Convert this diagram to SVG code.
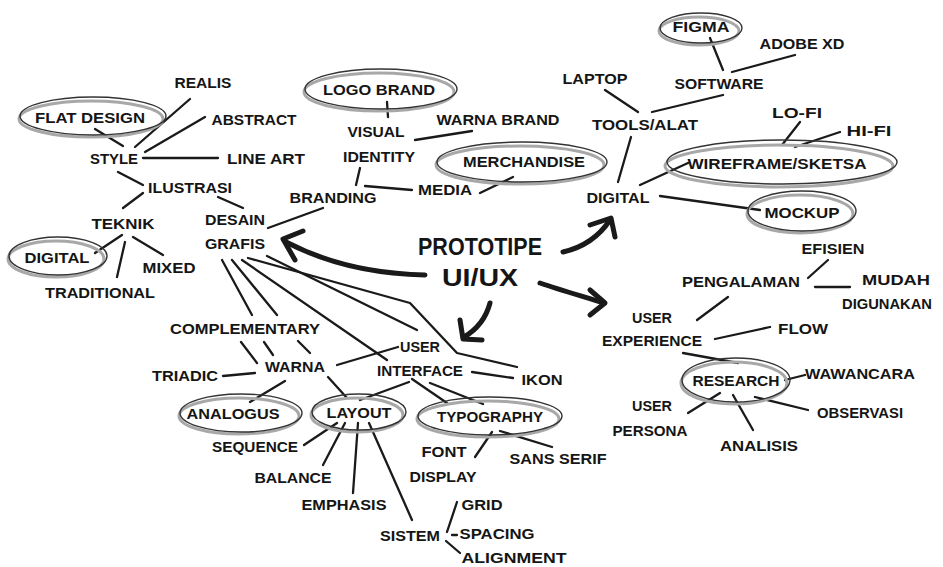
<svg xmlns="http://www.w3.org/2000/svg" width="943" height="567" viewBox="0 0 943 567">
<style>
text{font-family:"Liberation Sans",Arial,sans-serif;font-weight:bold;font-size:15px;fill:#151515;text-anchor:middle}
.big{font-size:24px}
.c line,.c polyline,.c path{stroke:#1a1a1a;stroke-width:2.3;stroke-linecap:round;stroke-linejoin:round;fill:none}
.c .arr{stroke-width:5}
.sh{fill:none;stroke:#a8a8a8;stroke-width:3}
.el{fill:none;stroke:#333;stroke-width:1.4}
</style>
<rect width="943" height="567" fill="#fff"/>
<g class="c" id="connectors">
<line x1="95" y1="129" x2="123" y2="146"/>
<line x1="190" y1="99" x2="135" y2="147"/>
<line x1="205" y1="117" x2="145" y2="152"/>
<line x1="143" y1="158" x2="218" y2="158"/>
<line x1="118" y1="172" x2="143" y2="185"/>
<line x1="143" y1="193" x2="123" y2="208"/>
<line x1="218" y1="197" x2="243" y2="208"/>
<line x1="122" y1="235" x2="95" y2="253"/>
<line x1="125" y1="242" x2="117" y2="277"/>
<line x1="133" y1="237" x2="163" y2="255"/>
<line x1="268" y1="228" x2="323" y2="208"/>
<line x1="387" y1="102" x2="388" y2="117"/>
<line x1="415" y1="140" x2="472" y2="131"/>
<line x1="360" y1="168" x2="356" y2="185"/>
<line x1="365" y1="186" x2="412" y2="190"/>
<line x1="480" y1="193" x2="513" y2="177"/>
<line x1="710" y1="38" x2="723" y2="70"/>
<line x1="732" y1="72" x2="795" y2="55"/>
<line x1="605" y1="90" x2="638" y2="112"/>
<line x1="723" y1="95" x2="652" y2="112"/>
<line x1="631" y1="137" x2="618" y2="182"/>
<line x1="800" y1="122" x2="782" y2="145"/>
<line x1="840" y1="132" x2="795" y2="147"/>
<line x1="640" y1="185" x2="688" y2="163"/>
<line x1="660" y1="196" x2="760" y2="210"/>
<line x1="828" y1="260" x2="808" y2="278"/>
<line x1="815" y1="287" x2="850" y2="287"/>
<line x1="728" y1="297" x2="697" y2="320"/>
<line x1="715" y1="339" x2="770" y2="327"/>
<line x1="683" y1="353" x2="738" y2="363"/>
<line x1="785" y1="380" x2="805" y2="375"/>
<line x1="755" y1="397" x2="808" y2="410"/>
<line x1="720" y1="393" x2="688" y2="413"/>
<line x1="733" y1="395" x2="753" y2="430"/>
<line x1="222" y1="260" x2="252" y2="315"/>
<line x1="232" y1="260" x2="277" y2="315"/>
<line x1="242" y1="260" x2="387" y2="360"/>
<polyline points="248,258 410,303 457,353 517,367"/>
<line x1="267" y1="256" x2="417" y2="330"/>
<line x1="241" y1="342" x2="257" y2="363"/>
<line x1="264" y1="342" x2="273" y2="355"/>
<line x1="298" y1="341" x2="310" y2="353"/>
<line x1="223" y1="376" x2="255" y2="373"/>
<line x1="337" y1="365" x2="398" y2="347"/>
<line x1="472" y1="372" x2="513" y2="378"/>
<line x1="285" y1="381" x2="250" y2="402"/>
<line x1="328" y1="377" x2="347" y2="398"/>
<line x1="409" y1="382" x2="360" y2="400"/>
<line x1="412" y1="379" x2="447" y2="403"/>
<line x1="430" y1="383" x2="483" y2="404"/>
<line x1="337" y1="423" x2="304" y2="445"/>
<line x1="345" y1="423" x2="323" y2="465"/>
<line x1="358" y1="423" x2="353" y2="493"/>
<line x1="369" y1="423" x2="412" y2="520"/>
<line x1="457" y1="502" x2="447" y2="532"/>
<line x1="452" y1="535" x2="457" y2="535"/>
<line x1="446" y1="541" x2="460" y2="553"/>
<line x1="492" y1="432" x2="475" y2="457"/>
<line x1="500" y1="431" x2="552" y2="447"/>
<path class="arr" d="M425,275 C380,274 330,265 286,242"/>
<polyline class="arr" points="303,231 283,239 295,260"/>
<path class="arr" d="M490,303 C486,318 476,330 464,337"/>
<polyline class="arr" points="460,320 463,339 482,340"/>
<path class="arr" d="M563,252 C585,247 600,235 610,220"/>
<polyline class="arr" points="590,225 611,218 615,237"/>
<path class="arr" d="M540,283 C560,290 585,297 604,303"/>
<polyline class="arr" points="590,290 605,303 590,315"/>
</g>
<g id="realis"><text x="203" y="88" textLength="57" lengthAdjust="spacingAndGlyphs">REALIS</text></g>
<g id="flat-design"><ellipse class="sh" cx="91" cy="119" rx="72" ry="18"/><ellipse class="el" cx="93" cy="116" rx="73" ry="19"/><text x="90" y="123" textLength="110" lengthAdjust="spacingAndGlyphs">FLAT DESIGN</text></g>
<g id="abstract"><text x="254" y="125" textLength="85" lengthAdjust="spacingAndGlyphs">ABSTRACT</text></g>
<g id="style"><text x="114" y="164" textLength="48" lengthAdjust="spacingAndGlyphs">STYLE</text></g>
<g id="line-art"><text x="266" y="164" textLength="78" lengthAdjust="spacingAndGlyphs">LINE ART</text></g>
<g id="ilustrasi"><text x="190" y="193" textLength="84" lengthAdjust="spacingAndGlyphs">ILUSTRASI</text></g>
<g id="teknik"><text x="123" y="229" textLength="63" lengthAdjust="spacingAndGlyphs">TEKNIK</text></g>
<g id="desain-grafis"><text x="235" y="225" textLength="60" lengthAdjust="spacingAndGlyphs">DESAIN</text><text x="235" y="249" textLength="60" lengthAdjust="spacingAndGlyphs">GRAFIS</text></g>
<g id="digital-left"><ellipse class="sh" cx="56" cy="259" rx="48" ry="18"/><ellipse class="el" cx="58" cy="256" rx="49" ry="19"/><text x="57" y="263" textLength="65" lengthAdjust="spacingAndGlyphs">DIGITAL</text></g>
<g id="mixed"><text x="169" y="273" textLength="53" lengthAdjust="spacingAndGlyphs">MIXED</text></g>
<g id="traditional"><text x="100" y="298" textLength="110" lengthAdjust="spacingAndGlyphs">TRADITIONAL</text></g>
<g id="logo-brand"><ellipse class="sh" cx="379" cy="92" rx="75" ry="19"/><ellipse class="el" cx="381" cy="89" rx="76" ry="20"/><text x="379" y="95" textLength="112" lengthAdjust="spacingAndGlyphs">LOGO BRAND</text></g>
<g id="visual-identity"><text x="376" y="137" textLength="57" lengthAdjust="spacingAndGlyphs">VISUAL</text><text x="379" y="162" textLength="72" lengthAdjust="spacingAndGlyphs">IDENTITY</text></g>
<g id="warna-brand"><text x="498" y="125" textLength="123" lengthAdjust="spacingAndGlyphs">WARNA BRAND</text></g>
<g id="merchandise"><ellipse class="sh" cx="520" cy="165" rx="84" ry="19"/><ellipse class="el" cx="522" cy="162" rx="85" ry="20"/><text x="524" y="167" textLength="122" lengthAdjust="spacingAndGlyphs">MERCHANDISE</text></g>
<g id="branding"><text x="333" y="203" textLength="87" lengthAdjust="spacingAndGlyphs">BRANDING</text></g>
<g id="media"><text x="445" y="195" textLength="54" lengthAdjust="spacingAndGlyphs">MEDIA</text></g>
<g id="prototipe"><text class="big" x="480" y="255" textLength="124" lengthAdjust="spacingAndGlyphs">PROTOTIPE</text><text class="big" x="480" y="286" textLength="76" lengthAdjust="spacingAndGlyphs">UI/UX</text></g>
<g id="figma"><ellipse class="sh" cx="699" cy="31" rx="40" ry="14"/><ellipse class="el" cx="701" cy="28" rx="41" ry="15"/><text x="701" y="32" textLength="57" lengthAdjust="spacingAndGlyphs">FIGMA</text></g>
<g id="adobe-xd"><text x="802" y="49" textLength="85" lengthAdjust="spacingAndGlyphs">ADOBE XD</text></g>
<g id="software"><text x="719" y="89" textLength="89" lengthAdjust="spacingAndGlyphs">SOFTWARE</text></g>
<g id="laptop"><text x="595" y="84" textLength="65" lengthAdjust="spacingAndGlyphs">LAPTOP</text></g>
<g id="tools-alat"><text x="645" y="130" textLength="106" lengthAdjust="spacingAndGlyphs">TOOLS/ALAT</text></g>
<g id="lo-fi"><text x="797" y="118" textLength="50" lengthAdjust="spacingAndGlyphs">LO-FI</text></g>
<g id="hi-fi"><text x="869" y="136" textLength="45" lengthAdjust="spacingAndGlyphs">HI-FI</text></g>
<g id="wireframe"><ellipse class="sh" cx="779" cy="166" rx="114" ry="21"/><ellipse class="el" cx="782" cy="162" rx="115" ry="22"/><text x="777" y="169" textLength="179" lengthAdjust="spacingAndGlyphs">WIREFRAME/SKETSA</text></g>
<g id="digital-right"><text x="618" y="203" textLength="63" lengthAdjust="spacingAndGlyphs">DIGITAL</text></g>
<g id="mockup"><ellipse class="sh" cx="800" cy="214" rx="53" ry="19"/><ellipse class="el" cx="802" cy="211" rx="54" ry="20"/><text x="802" y="218" textLength="75" lengthAdjust="spacingAndGlyphs">MOCKUP</text></g>
<g id="efisien"><text x="833" y="254" textLength="63" lengthAdjust="spacingAndGlyphs">EFISIEN</text></g>
<g id="pengalaman"><text x="741" y="287" textLength="118" lengthAdjust="spacingAndGlyphs">PENGALAMAN</text></g>
<g id="mudah-digunakan"><text x="896" y="285" textLength="68" lengthAdjust="spacingAndGlyphs">MUDAH</text><text x="887" y="309" textLength="90" lengthAdjust="spacingAndGlyphs">DIGUNAKAN</text></g>
<g id="user-experience"><text x="652" y="323" textLength="40" lengthAdjust="spacingAndGlyphs">USER</text><text x="652" y="346" textLength="100" lengthAdjust="spacingAndGlyphs">EXPERIENCE</text></g>
<g id="flow"><text x="803" y="334" textLength="50" lengthAdjust="spacingAndGlyphs">FLOW</text></g>
<g id="research"><ellipse class="sh" cx="734" cy="383" rx="53" ry="21"/><ellipse class="el" cx="736" cy="380" rx="54" ry="22"/><text x="736" y="386" textLength="87" lengthAdjust="spacingAndGlyphs">RESEARCH</text></g>
<g id="wawancara"><text x="860" y="379" textLength="110" lengthAdjust="spacingAndGlyphs">WAWANCARA</text></g>
<g id="observasi"><text x="860" y="418" textLength="86" lengthAdjust="spacingAndGlyphs">OBSERVASI</text></g>
<g id="user-persona"><text x="652" y="411" textLength="40" lengthAdjust="spacingAndGlyphs">USER</text><text x="650" y="436" textLength="75" lengthAdjust="spacingAndGlyphs">PERSONA</text></g>
<g id="analisis"><text x="759" y="451" textLength="78" lengthAdjust="spacingAndGlyphs">ANALISIS</text></g>
<g id="complementary"><text x="245" y="334" textLength="150" lengthAdjust="spacingAndGlyphs">COMPLEMENTARY</text></g>
<g id="warna"><text x="295" y="372" textLength="60" lengthAdjust="spacingAndGlyphs">WARNA</text></g>
<g id="triadic"><text x="185" y="381" textLength="66" lengthAdjust="spacingAndGlyphs">TRIADIC</text></g>
<g id="user-interface"><text x="420" y="352" textLength="40" lengthAdjust="spacingAndGlyphs">USER</text><text x="420" y="376" textLength="86" lengthAdjust="spacingAndGlyphs">INTERFACE</text></g>
<g id="ikon"><text x="542" y="385" textLength="41" lengthAdjust="spacingAndGlyphs">IKON</text></g>
<g id="analogus"><ellipse class="sh" cx="239" cy="416" rx="60" ry="18"/><ellipse class="el" cx="241" cy="413" rx="61" ry="19"/><text x="233" y="419" textLength="93" lengthAdjust="spacingAndGlyphs">ANALOGUS</text></g>
<g id="layout"><ellipse class="sh" cx="357" cy="415" rx="46" ry="17"/><ellipse class="el" cx="359" cy="412" rx="47" ry="18"/><text x="359" y="418" textLength="65" lengthAdjust="spacingAndGlyphs">LAYOUT</text></g>
<g id="typography"><ellipse class="sh" cx="488" cy="419" rx="71" ry="18"/><ellipse class="el" cx="490" cy="416" rx="72" ry="19"/><text x="490" y="422" textLength="106" lengthAdjust="spacingAndGlyphs">TYPOGRAPHY</text></g>
<g id="sequence"><text x="255" y="452" textLength="86" lengthAdjust="spacingAndGlyphs">SEQUENCE</text></g>
<g id="balance"><text x="293" y="483" textLength="77" lengthAdjust="spacingAndGlyphs">BALANCE</text></g>
<g id="emphasis"><text x="344" y="510" textLength="85" lengthAdjust="spacingAndGlyphs">EMPHASIS</text></g>
<g id="sistem"><text x="410" y="541" textLength="60" lengthAdjust="spacingAndGlyphs">SISTEM</text></g>
<g id="grid"><text x="482" y="510" textLength="41" lengthAdjust="spacingAndGlyphs">GRID</text></g>
<g id="spacing"><text x="497" y="539" textLength="75" lengthAdjust="spacingAndGlyphs">SPACING</text></g>
<g id="alignment"><text x="514" y="563" font-size="14" textLength="105" lengthAdjust="spacingAndGlyphs">ALIGNMENT</text></g>
<g id="font-display"><text x="444" y="457" textLength="45" lengthAdjust="spacingAndGlyphs">FONT</text><text x="443" y="482" textLength="67" lengthAdjust="spacingAndGlyphs">DISPLAY</text></g>
<g id="sans-serif"><text x="558" y="464" textLength="97" lengthAdjust="spacingAndGlyphs">SANS SERIF</text></g>
</svg>
